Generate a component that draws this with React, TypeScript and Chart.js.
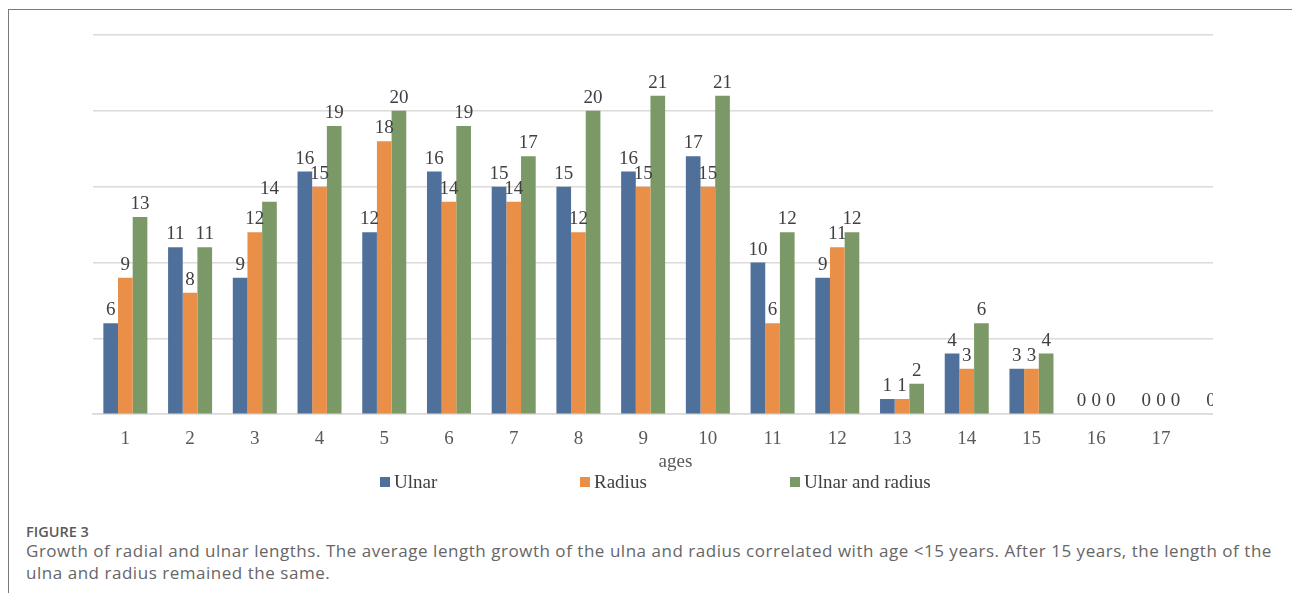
import React, { useEffect, useRef } from "react";
import { Chart, registerables } from "chart.js";

Chart.register(...registerables);

const ages = ["1","2","3","4","5","6","7","8","9","10","11","12","13","14","15","16","17","18"];
const ulnar = [6, 11, 9, 16, 12, 16, 15, 15, 16, 17, 10, 9, 1, 4, 3, 0, 0, 0];
const radius = [9, 8, 12, 15, 18, 14, 14, 12, 15, 15, 6, 11, 1, 3, 3, 0, 0, 0];
const ulnarAndRadius = [13, 11, 14, 19, 20, 19, 17, 20, 21, 21, 12, 12, 2, 6, 4, 0, 0, 0];
const seriesNames = ["Ulnar", "Radius", "Ulnar and radius"];
const seriesColors = ["#50709c", "#e98f47", "#7b9966"];
const legendX = [380, 580, 790];
const yTicks = [0, 5, 10, 15, 20, 25];
const xTitle = "ages";

const SERIF = "'Liberation Serif', 'Times New Roman', serif";

const valueLabels = {
  id: "valueLabels",
  afterDatasetsDraw(chart: any) {
    const { ctx, chartArea } = chart;
    ctx.save();
    ctx.font = `19px ${SERIF}`;
    ctx.fillStyle = "#404040";
    ctx.textAlign = "center";
    ctx.textBaseline = "alphabetic";
    chart.data.datasets.forEach((ds: any, i: number) => {
      const meta = chart.getDatasetMeta(i);
      meta.data.forEach((el: any, j: number) => {
        ctx.fillText(String(ds.data[j]), el.x, el.y - 8);
      });
    });
    ctx.fillStyle = "#595959";
    ctx.textBaseline = "middle";
    ctx.fillText(xTitle, (chartArea.left + chartArea.right) / 2, chartArea.bottom + 48);
    ctx.restore();
  },
};

export default function App() {
  const ref = useRef<HTMLCanvasElement>(null);
  useEffect(() => {
    if (!ref.current) return;
    const chart = new Chart(ref.current, {
      type: "bar",
      data: {
        labels: ages,
        datasets: [ulnar, radius, ulnarAndRadius].map((d, i) => ({
          label: seriesNames[i],
          data: d,
          backgroundColor: seriesColors[i],
          borderWidth: 0,
          barPercentage: 1,
          categoryPercentage: 0.68,
        })),
      },
      options: {
        animation: false,
        responsive: false,
        maintainAspectRatio: false,
        layout: { padding: { left: 10, right: 0, top: 10, bottom: 25 } },
        plugins: { legend: { display: false }, tooltip: { enabled: false } },
        scales: {
          x: {
            grid: { display: false, drawTicks: false },
            border: { display: true, color: "#d9d9d9", width: 1.5 },
            ticks: {
              color: "#595959",
              font: { family: SERIF, size: 19 },
              padding: 13,
              maxRotation: 0,
              autoSkip: false,
            },
          },
          y: {
            display: true,
            min: 0,
            max: 25,
            afterBuildTicks: (axis: any) => {
              axis.ticks = yTicks.map((v) => ({ value: v }));
            },
            grid: { color: "#dedad8", lineWidth: 1.5, drawTicks: false },
            border: { display: false },
            ticks: { display: false },
          },
        },
      },
      plugins: [valueLabels],
    });
    return () => chart.destroy();
  }, []);

  return (
    <div style={{ position: "absolute", left: 0, top: 0, width: 1292, height: 593, overflow: "hidden", background: "#fff" }}>
      <div style={{ position: "absolute", left: 8, top: 9, width: 1400, height: 700, borderLeft: "1.5px solid #7a7a7a", borderTop: "1.5px solid #7a7a7a" }} />
      <div style={{ position: "absolute", left: 0, top: 0, width: 1213, height: 593, overflow: "hidden" }}>
        <canvas ref={ref} width={1175} height={463} style={{ position: "absolute", left: 83, top: 25, width: 1175, height: 463 }} />
      </div>
      {seriesNames.map((n, i) => (
        <div key={n} style={{ position: "absolute", left: legendX[i], top: 468, height: 28, display: "flex", alignItems: "center", fontFamily: SERIF, fontSize: 19, color: "#404040", whiteSpace: "nowrap" }}>
          <span style={{ display: "inline-block", width: 10, height: 10, background: seriesColors[i], marginRight: 4 }} />
          <span>{n}</span>
        </div>
      ))}
      <div style={{ position: "absolute", left: 26, top: 522, fontFamily: "'Open Sans', sans-serif", fontWeight: 600, fontSize: 14.5, color: "#5a5a5a", whiteSpace: "nowrap" }}>FIGURE 3</div>
      <div style={{ position: "absolute", left: 26, top: 540, fontFamily: "'Open Sans', sans-serif", fontSize: 17, letterSpacing: "0.53px", lineHeight: "22px", color: "#666", whiteSpace: "nowrap" }}>
        <div>Growth of radial and ulnar lengths. The average length growth of the ulna and radius correlated with age &lt;15 years. After 15 years, the length of the</div>
        <div>ulna and radius remained the same.</div>
      </div>
    </div>
  );
}
